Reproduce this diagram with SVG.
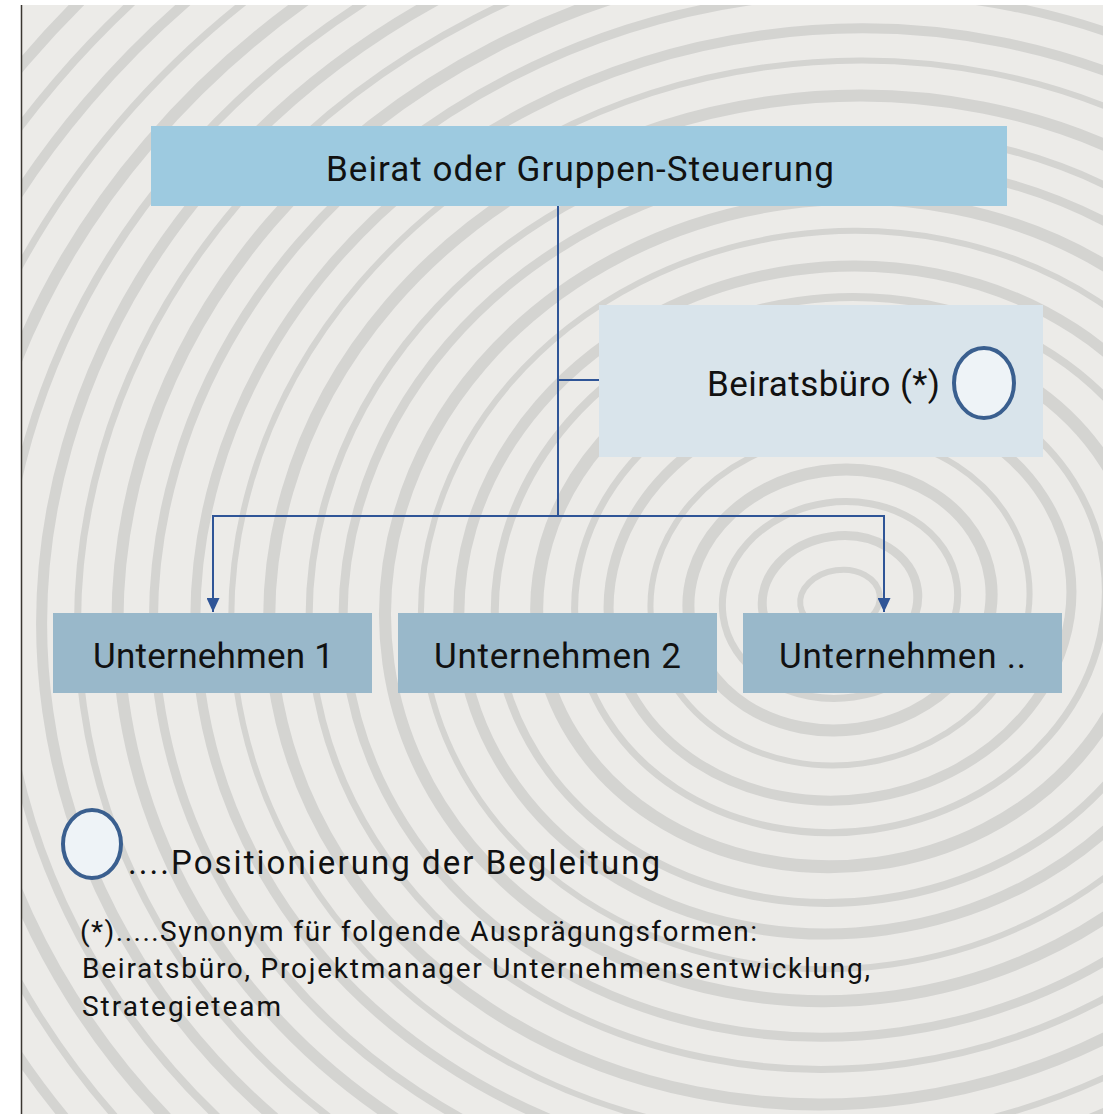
<svg xmlns="http://www.w3.org/2000/svg" width="1110" height="1114" viewBox="0 0 1110 1114">
  <style>
    .lbl { font-family: Roboto, "Liberation Sans", sans-serif; fill: #111; }
    .top { fill: #9dcae0; }
    .side { fill: #d9e4eb; }
    .unit { fill: #99b8ca; }
    .conn { stroke: #2f5597; stroke-width: 2; fill: none; }
    .mark { fill: #eef3f7; stroke: #3a5f8f; stroke-width: 4; }
    .ring { fill: none; stroke: #d0d0ce; }
  </style>
  <defs>
    <clipPath id="bgclip"><rect x="21" y="5" width="1082" height="1109"/></clipPath>
    <marker id="arr" viewBox="0 0 10 10" refX="10" refY="5" markerWidth="14" markerHeight="13" markerUnits="userSpaceOnUse" orient="auto" preserveAspectRatio="none">
      <path d="M0,0 L10,5 L0,10 z" fill="#2f5597"/>
    </marker>
  </defs>
  <rect width="1110" height="1114" fill="#ffffff"/>
  <g id="background" clip-path="url(#bgclip)">
    <rect x="21" y="5" width="1082" height="1109" fill="#ecebe8"/>
    <g transform="translate(840,600) rotate(-8)" opacity="0.85">
      <ellipse class="ring" rx="40" ry="30" stroke-width="6"/>
      <ellipse class="ring" rx="78" ry="64" stroke-width="9"/>
      <ellipse class="ring" rx="118" ry="98" stroke-width="7"/>
      <ellipse class="ring" rx="152" ry="130" stroke-width="12"/>
      <ellipse class="ring" rx="190" ry="165" stroke-width="6"/>
      <ellipse class="ring" rx="232" ry="200" stroke-width="10"/>
      <ellipse class="ring" rx="266" ry="232" stroke-width="7"/>
      <ellipse class="ring" rx="304" ry="266" stroke-width="13"/>
      <ellipse class="ring" rx="346" ry="302" stroke-width="8"/>
      <ellipse class="ring" rx="382" ry="333" stroke-width="11"/>
      <ellipse class="ring" rx="420" ry="368" stroke-width="6"/>
      <ellipse class="ring" rx="456" ry="400" stroke-width="12"/>
      <ellipse class="ring" rx="498" ry="436" stroke-width="9"/>
      <ellipse class="ring" rx="532" ry="468" stroke-width="7"/>
      <ellipse class="ring" rx="572" ry="503" stroke-width="12"/>
      <ellipse class="ring" rx="610" ry="538" stroke-width="6"/>
      <ellipse class="ring" rx="646" ry="570" stroke-width="10"/>
      <ellipse class="ring" rx="688" ry="606" stroke-width="9"/>
      <ellipse class="ring" rx="724" ry="640" stroke-width="12"/>
      <ellipse class="ring" rx="764" ry="674" stroke-width="7"/>
      <ellipse class="ring" rx="800" ry="708" stroke-width="11"/>
      <ellipse class="ring" rx="840" ry="742" stroke-width="8"/>
      <ellipse class="ring" rx="878" ry="776" stroke-width="12"/>
      <ellipse class="ring" rx="916" ry="810" stroke-width="7"/>
      <ellipse class="ring" rx="956" ry="846" stroke-width="10"/>
      <ellipse class="ring" rx="996" ry="880" stroke-width="8"/>
      <ellipse class="ring" rx="1036" ry="915" stroke-width="11"/>
    </g>
  </g>
  <line x1="21.5" y1="5" x2="21.5" y2="1114" stroke="#3a3630" stroke-width="1.5"/>

  <g id="connectors">
    <line class="conn" x1="558" y1="206" x2="558" y2="516"/>
    <line class="conn" x1="558" y1="380" x2="599" y2="380"/>
    <polyline class="conn" points="558,516 213,516 213,612" marker-end="url(#arr)"/>
    <polyline class="conn" points="558,516 884,516 884,612" marker-end="url(#arr)"/>
  </g>

  <g id="node-beirat">
    <rect class="top" x="151" y="126" width="856" height="80"/>
    <text class="lbl" x="326" y="181" font-size="35" textLength="508" lengthAdjust="spacing">Beirat oder Gruppen-Steuerung</text>
  </g>
  <g id="node-beiratsbuero">
    <rect class="side" x="599" y="305" width="444" height="152"/>
    <text class="lbl" x="707" y="396" font-size="35" textLength="233" lengthAdjust="spacing">Beiratsbüro (*)</text>
    <ellipse class="mark" cx="984" cy="383" rx="30" ry="35"/>
  </g>
  <g id="node-u1">
    <rect class="unit" x="53" y="613" width="319" height="80"/>
    <text class="lbl" x="93" y="668" font-size="35" textLength="241" lengthAdjust="spacing">Unternehmen 1</text>
  </g>
  <g id="node-u2">
    <rect class="unit" x="398" y="613" width="319" height="80"/>
    <text class="lbl" x="434" y="668" font-size="35" textLength="247" lengthAdjust="spacing">Unternehmen 2</text>
  </g>
  <g id="node-u3">
    <rect class="unit" x="743" y="613" width="319" height="80"/>
    <text class="lbl" x="779" y="668" font-size="35" textLength="247" lengthAdjust="spacing">Unternehmen ..</text>
  </g>

  <g id="legend">
    <ellipse class="mark" cx="92" cy="844" rx="29" ry="34"/>
    <text class="lbl" x="128" y="874" font-size="33" textLength="532" lengthAdjust="spacing">....Positionierung der Begleitung</text>
    <text class="lbl" x="80" y="941" font-size="28" textLength="677" lengthAdjust="spacing">(*).....Synonym für folgende Ausprägungsformen:</text>
    <text class="lbl" x="82" y="978" font-size="28" textLength="788" lengthAdjust="spacing">Beiratsbüro, Projektmanager Unternehmensentwicklung,</text>
    <text class="lbl" x="82" y="1016" font-size="28" textLength="199" lengthAdjust="spacing">Strategieteam</text>
  </g>
</svg>
